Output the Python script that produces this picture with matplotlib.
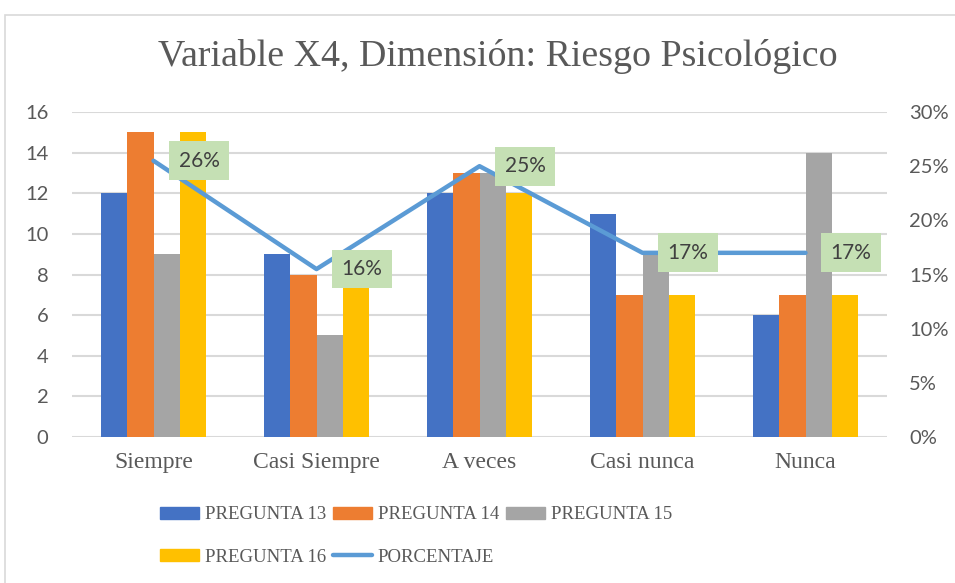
import matplotlib.pyplot as plt
from matplotlib.patches import Rectangle
from matplotlib.lines import Line2D
from matplotlib.ticker import FuncFormatter
import numpy as np

# data
categories = ['Siempre', 'Casi Siempre', 'A veces', 'Casi nunca', 'Nunca']
pregunta_13 = [12, 9, 12, 11, 6]
pregunta_14 = [15, 8, 13, 7, 7]
pregunta_15 = [9, 5, 13, 9, 14]
pregunta_16 = [15, 9, 12, 7, 7]
porcentaje = [0.255, 0.155, 0.25, 0.17, 0.17]
pct_labels = ['26%', '16%', '25%', '17%', '17%']

series = [pregunta_13, pregunta_14, pregunta_15, pregunta_16]
names = ['PREGUNTA 13', 'PREGUNTA 14', 'PREGUNTA 15', 'PREGUNTA 16']
colors = ['#4472C4', '#ED7D31', '#A5A5A5', '#FFC000']
line_color = '#5B9BD5'

W, H = 955, 583
fig = plt.figure(figsize=(W / 100, H / 100), dpi=100)

# outer chart frame
fig.patches.append(Rectangle((5 / W, -0.01), 1.0, 1 - 15 / H + 0.01,
                             transform=fig.transFigure, fill=False,
                             edgecolor='#D9D9D9', linewidth=1.2))

ax = fig.add_axes([72 / W, 1 - 437 / H, (887 - 72) / W, (437 - 112) / H])
ax2 = ax.twinx()

x = np.arange(len(categories))
bw = 0.16
for i, (vals, c) in enumerate(zip(series, colors)):
    ax.bar(x + (i - 1.5) * bw, vals, width=bw, color=c, zorder=2)

ax.set_xlim(-0.5, len(categories) - 0.5)
ax.set_ylim(0, 16)
ax.set_yticks(np.arange(0, 17, 2))
ax.yaxis.grid(True, color='#D9D9D9', linewidth=1.5, zorder=0)
ax.set_axisbelow(True)
for s in ax.spines.values():
    s.set_visible(False)
for s in ax2.spines.values():
    s.set_visible(False)

ax.set_xticks(x)
ax.set_xticklabels(categories, family='Liberation Serif', fontsize=17, color='#595959')
ax.tick_params(axis='x', length=0, pad=11)
ax.tick_params(axis='y', length=0, pad=17, labelsize=14.5, labelcolor='#595959')
for t in ax.get_yticklabels():
    t.set_family('Lato')

ax2.plot(x, porcentaje, color=line_color, linewidth=3.2, solid_capstyle='round',
         solid_joinstyle='round', zorder=3)
ax2.set_ylim(0, 0.30)
ax2.set_yticks(np.arange(0, 0.301, 0.05))
ax2.yaxis.set_major_formatter(FuncFormatter(lambda v, p: f'{v * 100:.0f}%'))
ax2.tick_params(axis='y', length=0, pad=16, labelsize=14.5, labelcolor='#595959')
for t in ax2.get_yticklabels():
    t.set_family('Lato')

for xi, p, lab in zip(x, porcentaje, pct_labels):
    ax2.annotate(lab, xy=(xi, p), xytext=(18, 0), textcoords='offset points',
                 ha='left', va='center', fontsize=15, family='Lato', color='#404040',
                 bbox=dict(boxstyle='square,pad=0.45', facecolor='#C5E0B4', edgecolor='none'),
                 zorder=4)

fig.text(498 / W, 1 - 57 / H, 'Variable X4, Dimensión: Riesgo Psicológico',
         ha='center', va='center', family='Liberation Serif', fontsize=27.3, color='#595959')

# legend, handles ordered so rows read 13 14 15 / 16 PORCENTAJE
hs = [Rectangle((0, 0), 1, 1, color=c) for c in colors]
line_h = Line2D([], [], color=line_color, linewidth=3.2, solid_capstyle='round')
handles = [hs[0], hs[3], hs[1], line_h, hs[2]]
labels = [names[0], names[3], names[1], 'PORCENTAJE', names[2]]
leg = fig.legend(handles, labels, ncol=3, loc='center left',
                 bbox_to_anchor=(160 / W, 1 - 536 / H), frameon=False,
                 borderpad=0, borderaxespad=0, handlelength=2.1, handleheight=0.65,
                 handletextpad=0.3, columnspacing=0.35, labelspacing=1.35,
                 prop={'family': 'Liberation Serif', 'size': 13.5})
for t in leg.get_texts():
    t.set_color('#595959')

fig.savefig('out.png', dpi=100)
